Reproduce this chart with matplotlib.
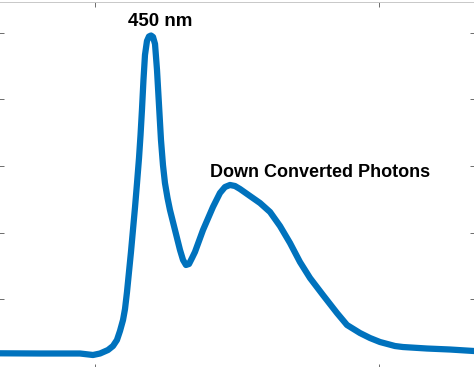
import matplotlib
matplotlib.use("Agg")
import matplotlib.pyplot as plt

# Spectrum (wavelength in nm, normalised intensity)
wavelength = [299.6, 341.9, 384.2, 397.9, 405.3, 413.7, 419.0, 423.2, 426.4, 429.6,
              431.7, 433.8, 435.9, 438.0, 440.1, 442.3, 444.4, 446.5, 448.1, 449.6,
              451.2, 452.8, 454.9, 457.0, 459.2, 461.3, 463.4, 465.5, 467.6, 469.7,
              471.8, 473.9, 476.6, 479.2, 484.5, 489.8, 493.0, 496.1, 499.3, 502.5,
              505.6, 514.1, 524.6, 532.0, 537.3, 542.6, 547.9, 553.2, 563.7, 574.3,
              584.9, 595.4, 606.0, 616.5, 627.1, 640.8, 655.6, 666.2, 679.9, 690.5,
              701.0, 716.9, 725.3, 750.7, 775.0, 800.3]
intensity = [0.0367, 0.0361, 0.0361, 0.0316, 0.0361, 0.0466, 0.0586, 0.0767, 0.1038, 0.1368,
             0.1699, 0.2211, 0.2812, 0.3414, 0.4075, 0.4767, 0.5489, 0.6241, 0.6932, 0.7684,
             0.8586, 0.9338, 0.9759, 0.9895, 0.9925, 0.9880, 0.9669, 0.8887, 0.7835, 0.6782,
             0.6030, 0.5489, 0.5038, 0.4677, 0.4075, 0.3474, 0.3173, 0.3023, 0.3053, 0.3233,
             0.3414, 0.4075, 0.4767, 0.5188, 0.5368, 0.5429, 0.5398, 0.5308, 0.5098, 0.4887,
             0.4617, 0.4195, 0.3684, 0.3113, 0.2632, 0.2120, 0.1579, 0.1218, 0.0977, 0.0827,
             0.0707, 0.0586, 0.0556, 0.0511, 0.0481, 0.0436]

x_ticks = [400, 700]
y_ticks = [0.2, 0.4, 0.6, 0.8, 1.0]

labels = ["450 nm", "Down Converted Photons"]
label_x = [469.2, 521.5]
label_y = [1.022, 0.568]

W, H = 474, 367
fig = plt.figure(figsize=(W / 100, H / 100), dpi=100)
ax = fig.add_axes([-1 / W, -1.5 / H, 476 / W, 1.0])

ax.plot(wavelength, intensity, color="#0072BD", lw=4.5,
        solid_joinstyle="round", solid_capstyle="round")

ax.set_xlim(298.6, 801.4)
ax.set_ylim(-0.009, 1.0947)
ax.set_xticks(x_ticks)
ax.set_yticks(y_ticks)
ax.set_xticklabels([])
ax.set_yticklabels([])
ax.tick_params(direction="in", length=3.6, width=0.6, color="#555555",
               top=True, right=True, bottom=True, left=True)
for s in ax.spines.values():
    s.set_color("#c8c8c8")
    s.set_linewidth(0.7)

ax.text(label_x[0], label_y[0], labels[0], ha="center", va="baseline",
        fontsize=13.5, fontweight="bold", family="Liberation Sans", color="black")
ax.text(label_x[1], label_y[1], labels[1], ha="left", va="baseline",
        fontsize=13.0, fontweight="bold", family="Liberation Sans", color="black")

fig.savefig("out.png", dpi=100)
